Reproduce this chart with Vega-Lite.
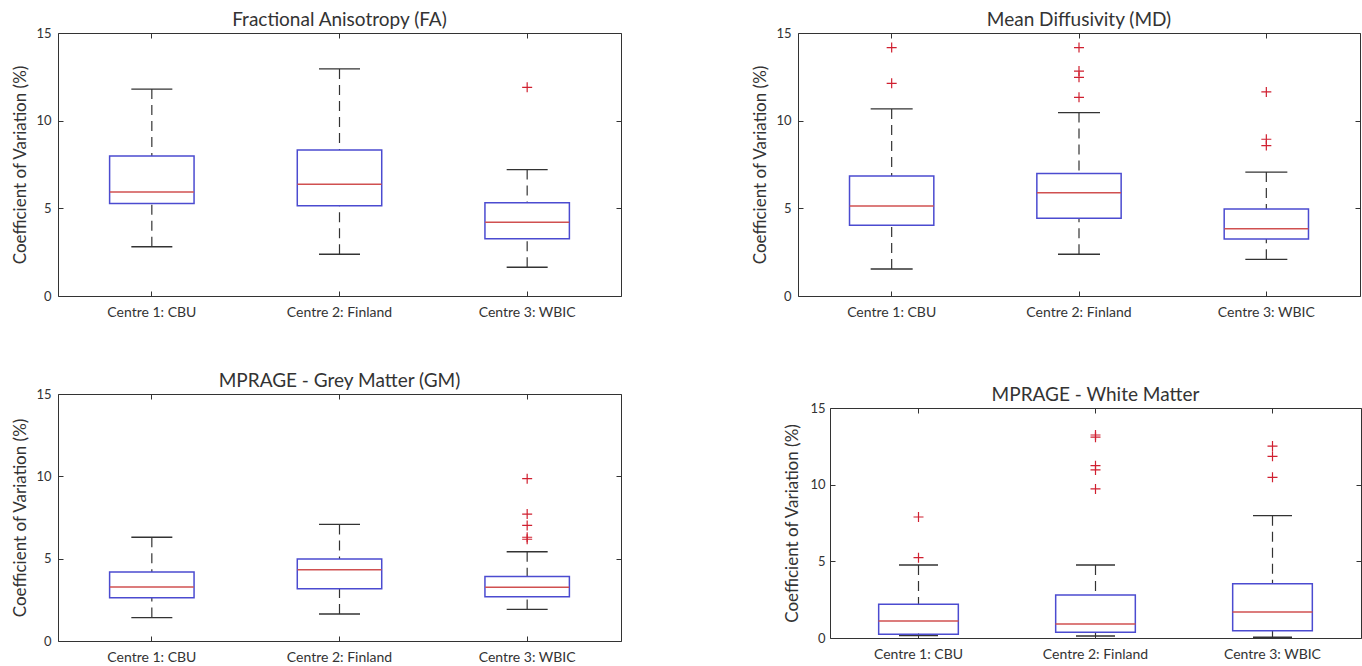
{
  "$schema": "https://vega.github.io/schema/vega-lite/v6.json",
  "padding": {"left": 11, "top": 10, "right": 0, "bottom": 0},
  "background": "white",
  "columns": 2,
  "align": "none",
  "bounds": "full",
  "spacing": {"row": 51, "column": 129},
  "datasets": {
    "stats": [
      {"panel": "FA", "centre": "Centre 1: CBU", "lower": 2.81, "q1": 5.27, "median": 5.93, "q3": 7.99, "upper": 11.8},
      {"panel": "FA", "centre": "Centre 2: Finland", "lower": 2.38, "q1": 5.15, "median": 6.37, "q3": 8.33, "upper": 12.95},
      {"panel": "FA", "centre": "Centre 3: WBIC", "lower": 1.64, "q1": 3.27, "median": 4.2, "q3": 5.32, "upper": 7.21},
      {"panel": "MD", "centre": "Centre 1: CBU", "lower": 1.54, "q1": 4.03, "median": 5.13, "q3": 6.85, "upper": 10.67},
      {"panel": "MD", "centre": "Centre 2: Finland", "lower": 2.38, "q1": 4.43, "median": 5.89, "q3": 6.98, "upper": 10.46},
      {"panel": "MD", "centre": "Centre 3: WBIC", "lower": 2.09, "q1": 3.25, "median": 3.84, "q3": 4.96, "upper": 7.07},
      {"panel": "GM", "centre": "Centre 1: CBU", "lower": 1.42, "q1": 2.63, "median": 3.28, "q3": 4.19, "upper": 6.3},
      {"panel": "GM", "centre": "Centre 2: Finland", "lower": 1.64, "q1": 3.18, "median": 4.33, "q3": 4.98, "upper": 7.08},
      {"panel": "GM", "centre": "Centre 3: WBIC", "lower": 1.92, "q1": 2.69, "median": 3.26, "q3": 3.91, "upper": 5.42},
      {"panel": "WM", "centre": "Centre 1: CBU", "lower": 0.15, "q1": 0.24, "median": 1.11, "q3": 2.2, "upper": 4.76},
      {"panel": "WM", "centre": "Centre 2: Finland", "lower": 0.13, "q1": 0.37, "median": 0.91, "q3": 2.8, "upper": 4.76},
      {"panel": "WM", "centre": "Centre 3: WBIC", "lower": 0.05, "q1": 0.48, "median": 1.7, "q3": 3.54, "upper": 7.98}
    ],
    "outliers": [
      {"panel": "FA", "centre": "Centre 3: WBIC", "value": 11.9},
      {"panel": "MD", "centre": "Centre 1: CBU", "value": 14.17},
      {"panel": "MD", "centre": "Centre 1: CBU", "value": 12.13},
      {"panel": "MD", "centre": "Centre 2: Finland", "value": 14.17},
      {"panel": "MD", "centre": "Centre 2: Finland", "value": 12.83},
      {"panel": "MD", "centre": "Centre 2: Finland", "value": 12.47},
      {"panel": "MD", "centre": "Centre 2: Finland", "value": 11.33},
      {"panel": "MD", "centre": "Centre 3: WBIC", "value": 11.64},
      {"panel": "MD", "centre": "Centre 3: WBIC", "value": 8.94},
      {"panel": "MD", "centre": "Centre 3: WBIC", "value": 8.58},
      {"panel": "GM", "centre": "Centre 3: WBIC", "value": 9.86},
      {"panel": "GM", "centre": "Centre 3: WBIC", "value": 7.71},
      {"panel": "GM", "centre": "Centre 3: WBIC", "value": 7.02},
      {"panel": "GM", "centre": "Centre 3: WBIC", "value": 6.3},
      {"panel": "GM", "centre": "Centre 3: WBIC", "value": 6.18},
      {"panel": "WM", "centre": "Centre 1: CBU", "value": 7.89},
      {"panel": "WM", "centre": "Centre 1: CBU", "value": 5.24},
      {"panel": "WM", "centre": "Centre 2: Finland", "value": 13.24},
      {"panel": "WM", "centre": "Centre 2: Finland", "value": 13.1},
      {"panel": "WM", "centre": "Centre 2: Finland", "value": 11.24},
      {"panel": "WM", "centre": "Centre 2: Finland", "value": 10.96},
      {"panel": "WM", "centre": "Centre 2: Finland", "value": 9.72},
      {"panel": "WM", "centre": "Centre 3: WBIC", "value": 12.52},
      {"panel": "WM", "centre": "Centre 3: WBIC", "value": 11.85},
      {"panel": "WM", "centre": "Centre 3: WBIC", "value": 10.48}
    ]
  },
  "concat": [
    {
      "width": 563, "height": 263,
      "title": {"text": "Fractional Anisotropy (FA)"},
      "resolve": {"axis": {"x": "independent", "y": "independent"}},
      "layer": [
        {"data": {"name": "stats"}, "transform": [{"filter": "datum.panel === 'FA'"}],
         "mark": {"type": "rule", "color": "#333", "strokeWidth": 1.2, "strokeDash": [10, 6]},
         "encoding": {
           "x": {"field": "centre", "type": "nominal", "sort": null, "scale": {"domain": ["Centre 1: CBU", "Centre 2: Finland", "Centre 3: WBIC"], "paddingInner": 0, "paddingOuter": 0}, "axis": null},
           "y": {"field": "upper", "type": "quantitative", "scale": {"domain": [0, 15], "nice": false, "zero": false}, "axis": null},
           "y2": {"field": "q3"}}},
        {"data": {"name": "stats"}, "transform": [{"filter": "datum.panel === 'FA'"}],
         "mark": {"type": "rule", "color": "#333", "strokeWidth": 1.2, "strokeDash": [10, 6]},
         "encoding": {
           "x": {"field": "centre", "type": "nominal", "sort": null, "axis": null},
           "y": {"field": "lower", "type": "quantitative", "axis": null},
           "y2": {"field": "q1"}}},
        {"data": {"name": "stats"}, "transform": [{"filter": "datum.panel === 'FA'"}],
         "mark": {"type": "tick", "color": "#333", "opacity": 1, "size": 41, "thickness": 1.3},
         "encoding": {
           "x": {"field": "centre", "type": "nominal", "sort": null, "axis": null},
           "y": {"field": "upper", "type": "quantitative", "axis": null}}},
        {"data": {"name": "stats"}, "transform": [{"filter": "datum.panel === 'FA'"}],
         "mark": {"type": "tick", "color": "#333", "opacity": 1, "size": 41, "thickness": 1.3},
         "encoding": {
           "x": {"field": "centre", "type": "nominal", "sort": null, "axis": null},
           "y": {"field": "lower", "type": "quantitative", "axis": null}}},
        {"data": {"name": "stats"}, "transform": [{"filter": "datum.panel === 'FA'"}],
         "mark": {"type": "bar", "filled": false, "stroke": "#4b4bd0", "strokeWidth": 1.5, "width": {"band": 0.45}},
         "encoding": {
           "x": {"field": "centre", "type": "nominal", "sort": null, "axis": {"title": null, "labelAngle": 0, "labelPadding": 14}},
           "y": {"field": "q1", "type": "quantitative", "axis": {"title": "Coefficient of Variation (%)", "values": [0, 5, 10, 15], "labelPadding": 12, "minExtent": 24, "titlePadding": 4.5}},
           "y2": {"field": "q3"}}},
        {"data": {"name": "stats"}, "transform": [{"filter": "datum.panel === 'FA'"}],
         "mark": {"type": "tick", "color": "#d05050", "opacity": 1, "size": 84, "thickness": 1.5},
         "encoding": {
           "x": {"field": "centre", "type": "nominal", "sort": null, "axis": {"orient": "top", "labels": false, "title": null}},
           "y": {"field": "median", "type": "quantitative", "axis": {"orient": "right", "labels": false, "title": null, "values": [0, 5, 10, 15], "minExtent": 0}}}},
        {"data": {"name": "outliers"}, "transform": [{"filter": "datum.panel === 'FA'"}],
         "mark": {"type": "point", "shape": "M-1,0H1M0,-1V1", "filled": false, "stroke": "#d02030", "strokeWidth": 1.2, "size": 100, "opacity": 1},
         "encoding": {
           "x": {"field": "centre", "type": "nominal", "sort": null, "axis": null},
           "y": {"field": "value", "type": "quantitative", "axis": null}}}
      ]
    },
    {
      "width": 562, "height": 263,
      "title": {"text": "Mean Diffusivity (MD)"},
      "resolve": {"axis": {"x": "independent", "y": "independent"}},
      "layer": [
        {"data": {"name": "stats"}, "transform": [{"filter": "datum.panel === 'MD'"}],
         "mark": {"type": "rule", "color": "#333", "strokeWidth": 1.2, "strokeDash": [10, 6]},
         "encoding": {
           "x": {"field": "centre", "type": "nominal", "sort": null, "scale": {"domain": ["Centre 1: CBU", "Centre 2: Finland", "Centre 3: WBIC"], "paddingInner": 0, "paddingOuter": 0}, "axis": null},
           "y": {"field": "upper", "type": "quantitative", "scale": {"domain": [0, 15], "nice": false, "zero": false}, "axis": null},
           "y2": {"field": "q3"}}},
        {"data": {"name": "stats"}, "transform": [{"filter": "datum.panel === 'MD'"}],
         "mark": {"type": "rule", "color": "#333", "strokeWidth": 1.2, "strokeDash": [10, 6]},
         "encoding": {
           "x": {"field": "centre", "type": "nominal", "sort": null, "axis": null},
           "y": {"field": "lower", "type": "quantitative", "axis": null},
           "y2": {"field": "q1"}}},
        {"data": {"name": "stats"}, "transform": [{"filter": "datum.panel === 'MD'"}],
         "mark": {"type": "tick", "color": "#333", "opacity": 1, "size": 42, "thickness": 1.3},
         "encoding": {
           "x": {"field": "centre", "type": "nominal", "sort": null, "axis": null},
           "y": {"field": "upper", "type": "quantitative", "axis": null}}},
        {"data": {"name": "stats"}, "transform": [{"filter": "datum.panel === 'MD'"}],
         "mark": {"type": "tick", "color": "#333", "opacity": 1, "size": 42, "thickness": 1.3},
         "encoding": {
           "x": {"field": "centre", "type": "nominal", "sort": null, "axis": null},
           "y": {"field": "lower", "type": "quantitative", "axis": null}}},
        {"data": {"name": "stats"}, "transform": [{"filter": "datum.panel === 'MD'"}],
         "mark": {"type": "bar", "filled": false, "stroke": "#4b4bd0", "strokeWidth": 1.5, "width": {"band": 0.45}},
         "encoding": {
           "x": {"field": "centre", "type": "nominal", "sort": null, "axis": {"title": null, "labelAngle": 0, "labelPadding": 14}},
           "y": {"field": "q1", "type": "quantitative", "axis": {"title": "Coefficient of Variation (%)", "values": [0, 5, 10, 15], "labelPadding": 12, "minExtent": 24, "titlePadding": 4.5}},
           "y2": {"field": "q3"}}},
        {"data": {"name": "stats"}, "transform": [{"filter": "datum.panel === 'MD'"}],
         "mark": {"type": "tick", "color": "#d05050", "opacity": 1, "size": 84, "thickness": 1.5},
         "encoding": {
           "x": {"field": "centre", "type": "nominal", "sort": null, "axis": {"orient": "top", "labels": false, "title": null}},
           "y": {"field": "median", "type": "quantitative", "axis": {"orient": "right", "labels": false, "title": null, "values": [0, 5, 10, 15], "minExtent": 0}}}},
        {"data": {"name": "outliers"}, "transform": [{"filter": "datum.panel === 'MD'"}],
         "mark": {"type": "point", "shape": "M-1,0H1M0,-1V1", "filled": false, "stroke": "#d02030", "strokeWidth": 1.2, "size": 100, "opacity": 1},
         "encoding": {
           "x": {"field": "centre", "type": "nominal", "sort": null, "axis": null},
           "y": {"field": "value", "type": "quantitative", "axis": null}}}
      ]
    },
    {
      "width": 563, "height": 247,
      "title": {"text": "MPRAGE - Grey Matter (GM)"},
      "resolve": {"axis": {"x": "independent", "y": "independent"}},
      "layer": [
        {"data": {"name": "stats"}, "transform": [{"filter": "datum.panel === 'GM'"}],
         "mark": {"type": "rule", "color": "#333", "strokeWidth": 1.2, "strokeDash": [10, 6]},
         "encoding": {
           "x": {"field": "centre", "type": "nominal", "sort": null, "scale": {"domain": ["Centre 1: CBU", "Centre 2: Finland", "Centre 3: WBIC"], "paddingInner": 0, "paddingOuter": 0}, "axis": null},
           "y": {"field": "upper", "type": "quantitative", "scale": {"domain": [0, 15], "nice": false, "zero": false}, "axis": null},
           "y2": {"field": "q3"}}},
        {"data": {"name": "stats"}, "transform": [{"filter": "datum.panel === 'GM'"}],
         "mark": {"type": "rule", "color": "#333", "strokeWidth": 1.2, "strokeDash": [10, 6]},
         "encoding": {
           "x": {"field": "centre", "type": "nominal", "sort": null, "axis": null},
           "y": {"field": "lower", "type": "quantitative", "axis": null},
           "y2": {"field": "q1"}}},
        {"data": {"name": "stats"}, "transform": [{"filter": "datum.panel === 'GM'"}],
         "mark": {"type": "tick", "color": "#333", "opacity": 1, "size": 41, "thickness": 1.3},
         "encoding": {
           "x": {"field": "centre", "type": "nominal", "sort": null, "axis": null},
           "y": {"field": "upper", "type": "quantitative", "axis": null}}},
        {"data": {"name": "stats"}, "transform": [{"filter": "datum.panel === 'GM'"}],
         "mark": {"type": "tick", "color": "#333", "opacity": 1, "size": 41, "thickness": 1.3},
         "encoding": {
           "x": {"field": "centre", "type": "nominal", "sort": null, "axis": null},
           "y": {"field": "lower", "type": "quantitative", "axis": null}}},
        {"data": {"name": "stats"}, "transform": [{"filter": "datum.panel === 'GM'"}],
         "mark": {"type": "bar", "filled": false, "stroke": "#4b4bd0", "strokeWidth": 1.5, "width": {"band": 0.45}},
         "encoding": {
           "x": {"field": "centre", "type": "nominal", "sort": null, "axis": {"title": null, "labelAngle": 0, "labelPadding": 14}},
           "y": {"field": "q1", "type": "quantitative", "axis": {"title": "Coefficient of Variation (%)", "values": [0, 5, 10, 15], "labelPadding": 12, "minExtent": 24, "titlePadding": 4.5}},
           "y2": {"field": "q3"}}},
        {"data": {"name": "stats"}, "transform": [{"filter": "datum.panel === 'GM'"}],
         "mark": {"type": "tick", "color": "#d05050", "opacity": 1, "size": 84, "thickness": 1.5},
         "encoding": {
           "x": {"field": "centre", "type": "nominal", "sort": null, "axis": {"orient": "top", "labels": false, "title": null}},
           "y": {"field": "median", "type": "quantitative", "axis": {"orient": "right", "labels": false, "title": null, "values": [0, 5, 10, 15], "minExtent": 0}}}},
        {"data": {"name": "outliers"}, "transform": [{"filter": "datum.panel === 'GM'"}],
         "mark": {"type": "point", "shape": "M-1,0H1M0,-1V1", "filled": false, "stroke": "#d02030", "strokeWidth": 1.2, "size": 100, "opacity": 1},
         "encoding": {
           "x": {"field": "centre", "type": "nominal", "sort": null, "axis": null},
           "y": {"field": "value", "type": "quantitative", "axis": null}}}
      ]
    },
    {
      "width": 531, "height": 230,
      "title": {"text": ["", "MPRAGE - White Matter"], "lineHeight": 14},
      "resolve": {"axis": {"x": "independent", "y": "independent"}},
      "layer": [
        {"data": {"name": "stats"}, "transform": [{"filter": "datum.panel === 'WM'"}],
         "mark": {"type": "rule", "color": "#333", "strokeWidth": 1.2, "strokeDash": [10, 6]},
         "encoding": {
           "x": {"field": "centre", "type": "nominal", "sort": null, "scale": {"domain": ["Centre 1: CBU", "Centre 2: Finland", "Centre 3: WBIC"], "paddingInner": 0, "paddingOuter": 0}, "axis": null},
           "y": {"field": "upper", "type": "quantitative", "scale": {"domain": [0, 15], "nice": false, "zero": false}, "axis": null},
           "y2": {"field": "q3"}}},
        {"data": {"name": "stats"}, "transform": [{"filter": "datum.panel === 'WM'"}],
         "mark": {"type": "rule", "color": "#333", "strokeWidth": 1.2, "strokeDash": [10, 6]},
         "encoding": {
           "x": {"field": "centre", "type": "nominal", "sort": null, "axis": null},
           "y": {"field": "lower", "type": "quantitative", "axis": null},
           "y2": {"field": "q1"}}},
        {"data": {"name": "stats"}, "transform": [{"filter": "datum.panel === 'WM'"}],
         "mark": {"type": "tick", "color": "#333", "opacity": 1, "size": 39, "thickness": 1.3},
         "encoding": {
           "x": {"field": "centre", "type": "nominal", "sort": null, "axis": null},
           "y": {"field": "upper", "type": "quantitative", "axis": null}}},
        {"data": {"name": "stats"}, "transform": [{"filter": "datum.panel === 'WM'"}],
         "mark": {"type": "tick", "color": "#333", "opacity": 1, "size": 39, "thickness": 1.3},
         "encoding": {
           "x": {"field": "centre", "type": "nominal", "sort": null, "axis": null},
           "y": {"field": "lower", "type": "quantitative", "axis": null}}},
        {"data": {"name": "stats"}, "transform": [{"filter": "datum.panel === 'WM'"}],
         "mark": {"type": "bar", "filled": false, "stroke": "#4b4bd0", "strokeWidth": 1.5, "width": {"band": 0.45}},
         "encoding": {
           "x": {"field": "centre", "type": "nominal", "sort": null, "axis": {"title": null, "labelAngle": 0, "labelPadding": 14}},
           "y": {"field": "q1", "type": "quantitative", "axis": {"title": "Coefficient of Variation (%)", "values": [0, 5, 10, 15], "labelPadding": 10, "minExtent": 78, "titlePadding": -49.5}},
           "y2": {"field": "q3"}}},
        {"data": {"name": "stats"}, "transform": [{"filter": "datum.panel === 'WM'"}],
         "mark": {"type": "tick", "color": "#d05050", "opacity": 1, "size": 80, "thickness": 1.5},
         "encoding": {
           "x": {"field": "centre", "type": "nominal", "sort": null, "axis": {"orient": "top", "labels": false, "title": null}},
           "y": {"field": "median", "type": "quantitative", "axis": {"orient": "right", "labels": false, "title": null, "values": [0, 5, 10, 15], "minExtent": 0}}}},
        {"data": {"name": "outliers"}, "transform": [{"filter": "datum.panel === 'WM'"}],
         "mark": {"type": "point", "shape": "M-1,0H1M0,-1V1", "filled": false, "stroke": "#d02030", "strokeWidth": 1.2, "size": 100, "opacity": 1},
         "encoding": {
           "x": {"field": "centre", "type": "nominal", "sort": null, "axis": null},
           "y": {"field": "value", "type": "quantitative", "axis": null}}}
      ]
    }
  ],
  "config": {
    "font": "Lato",
    "view": {"stroke": "#333", "strokeWidth": 1},
    "title": {"font": "Lato", "fontSize": 19, "fontWeight": "normal", "color": "#333", "offset": -3, "anchor": "middle", "frame": "group"},
    "axis": {"grid": false, "domain": false, "tickSize": -5, "tickColor": "#333", "tickWidth": 1, "labelFont": "Lato", "titleFont": "Lato", "labelColor": "#333", "titleColor": "#333", "titleFontWeight": "normal", "labelFontSize": 13, "titleFontSize": 17, "maxExtent": 200},
    "axisX": {"labelFontSize": 14}
  }
}
